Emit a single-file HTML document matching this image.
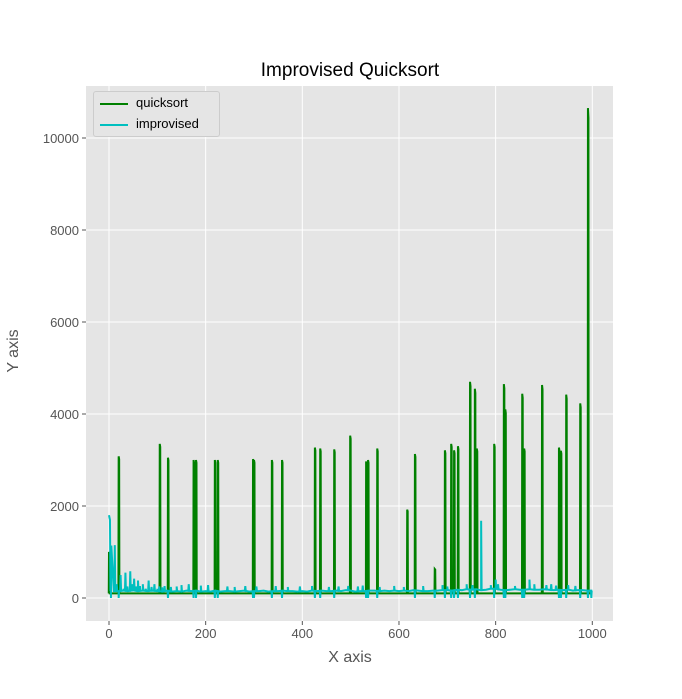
<!DOCTYPE html>
<html><head><meta charset="utf-8"><style>
html,body{margin:0;background:#fff;font-family:"Liberation Sans",sans-serif;width:682px;height:699px;overflow:hidden;position:relative}
</style></head><body>
<svg id="c" width="682" height="699" style="position:absolute;left:0;top:0" xmlns="http://www.w3.org/2000/svg"></svg>
<script>
const qsBase=100;
const qsSpikeX=[0,20,105,122,175,180,219,225,298,300,337,358,426,437,466,499,532,536,555,617,633,674,695,708,714,722,747,757,761,797,817,820,855,859,896,931,935,946,975,991];
const qsSpikeY=[1000,3080,3350,3050,3000,3000,3000,3000,3020,3000,3000,3000,3270,3250,3230,3530,2970,3000,3250,1920,3130,630,3210,3350,3210,3300,4700,4550,3250,3350,4650,4100,4440,3250,4630,3270,3200,4420,4230,10650];
const imNoiseX=[0,10,20,30,40,50,60,70,80,90,100,110,120,130,140,150,160,170,180,190,200,210,220,230,240,250,260,270,280,290,300,310,320,330,340,350,360,370,380,390,400,410,420,430,440,450,460,470,480,490,500,510,520,530,540,550,560,570,580,590,600,610,620,630,640,650,660,670,680,690,700,710,720,730,740,750,760,770,780,790,800,810,820,830,840,850,860,870,880,890,900,910,920,930,940,950,960,970,980,990,1000];
const imNoiseY=[1800,150,150,160,150,170,150,160,150,160,150,140,160,140,150,140,160,150,160,140,150,140,160,140,150,150,140,150,160,140,150,150,160,140,150,150,160,150,150,140,150,140,160,150,160,150,150,160,150,170,160,140,150,150,160,160,150,160,150,160,150,160,150,170,160,150,150,160,160,170,170,160,180,170,190,180,190,170,180,200,200,180,170,180,190,180,180,190,180,180,190,180,170,180,170,180,160,170,170,160,160];
const imDipX=[4,20,122,175,180,219,225,298,300,337,358,426,437,466,532,536,555,633,674,695,708,714,722,747,757,797,817,820,855,859,931,935,946,975,991,998];
const imSpikeX=[12,16,24,30,34,38,44,48,52,56,60,64,70,76,82,88,94,100,104,110,115,128,140,150,165,190,205,245,260,282,305,345,370,395,420,455,475,495,515,525,560,590,610,650,690,700,740,752,770,790,800,805,840,870,880,905,915,925,950,965];
const imSpikeY=[1150,300,500,200,550,250,580,300,420,250,380,260,300,200,380,240,300,200,250,230,260,240,250,280,300,270,280,250,240,260,250,260,240,250,260,240,250,260,250,270,240,260,240,260,280,250,300,280,1680,280,400,300,260,400,300,280,300,270,280,260];
const xTicks=[0,200,400,600,800,1000];
const yTicks=[0,2000,4000,6000,8000,10000];
const L=86,R=613,T=86,B=621;
const xs=v=>109+v*0.4833;
const ys=v=>598-v*0.046;
const s=document.getElementById('c');const NS='http://www.w3.org/2000/svg';
function mk(t,a,p){const e=document.createElementNS(NS,t);for(const k in a)e.setAttribute(k,a[k]);(p||s).appendChild(e);return e;}
const bg=mk('rect',{x:L,y:T,width:R-L,height:B-T,fill:'#e5e5e5'});


xTicks.forEach(v=>{const g=mk('line',{x1:xs(v),x2:xs(v),y1:T,y2:B,stroke:'#fff','stroke-width':1});


mk('line',{x1:xs(v),x2:xs(v),y1:B,y2:B+4,stroke:'#555'});
const t=mk('text',{x:xs(v),y:B+17,'text-anchor':'middle','font-size':13,fill:'#555'});t.textContent=v;

});
yTicks.forEach(v=>{const g=mk('line',{x1:L,x2:R,y1:ys(v),y2:ys(v),stroke:'#fff','stroke-width':1});


mk('line',{x1:L-4,x2:L,y1:ys(v),y2:ys(v),stroke:'#555'});
const t=mk('text',{x:L-7,y:ys(v)+5,'text-anchor':'end','font-size':13,fill:'#555'});t.textContent=v;

});
let qp=[];
qsSpikeX.forEach((x,i)=>{qp.push([x-0.5,qsBase],[x,qsSpikeY[i]],[x+1,qsSpikeY[i]*0.98],[x+1.5,qsBase]);});
qp.push([999,qsBase]);
qp.sort((a,b)=>a[0]-b[0]);
function noiseAt(x){let i=Math.min(Math.floor(x/10),imNoiseX.length-2);const t=(x-imNoiseX[i])/10;return imNoiseY[i]+(imNoiseY[i+1]-imNoiseY[i])*t;}
let ip=imNoiseX.map((x,i)=>[x,imNoiseY[i]]);
ip[0]=[0,1800];ip.push([2,1700],[3,150]);
imDipX.forEach(x=>{ip.push([x-0.8,noiseAt(x)],[x,0],[x+0.8,noiseAt(x)]);});
imSpikeX.forEach((x,i)=>{ip.push([x-1,noiseAt(x)],[x,imSpikeY[i]],[x+1,noiseAt(x)]);});
ip=ip.filter(p=>p[0]>=0&&p[0]<=1000).sort((a,b)=>a[0]-b[0]);
const pq=mk('polyline',{points:qp.map(p=>xs(p[0])+','+ys(p[1])).join(' '),fill:'none',stroke:'#008000','stroke-width':2});


const pi=mk('polyline',{points:ip.map(p=>xs(p[0])+','+ys(p[1])).join(' '),fill:'none',stroke:'#00bfbf','stroke-width':2});


</script>
<div style="position:absolute;left:0;width:700px;top:60px;text-align:center;font-size:19px;color:#000">Improvised Quicksort</div>
<div style="position:absolute;left:300px;width:100px;top:649px;text-align:center;font-size:16px;color:#555">X axis</div>
<div style="position:absolute;left:-16px;top:342px;width:60px;text-align:center;font-size:16px;color:#555;transform:rotate(-90deg)">Y axis</div>
<div style="position:absolute;left:93px;top:91px;width:125px;height:44px;background:#e5e5e5;border:1px solid #ccc;border-radius:3px;font-size:13px;color:#000">
<div style="position:absolute;left:6px;top:3px;white-space:nowrap"><span style="display:inline-block;width:28px;height:2px;background:#008000;vertical-align:middle;margin-right:8px"></span>quicksort</div>
<div style="position:absolute;left:6px;top:24px;white-space:nowrap"><span style="display:inline-block;width:28px;height:2px;background:#00bfbf;vertical-align:middle;margin-right:8px"></span>improvised</div>
</div>
</body></html>
